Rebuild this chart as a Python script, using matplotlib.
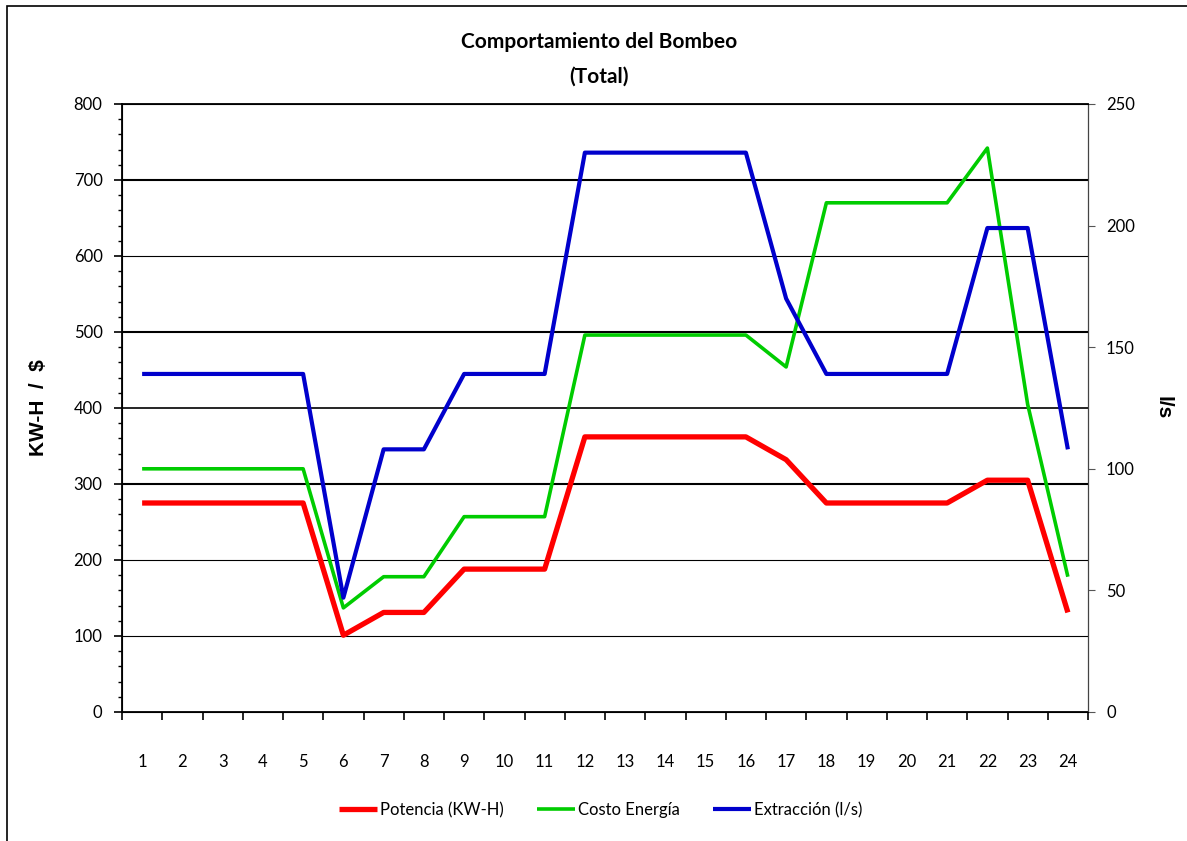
import matplotlib.pyplot as plt
from matplotlib.patches import Rectangle
from matplotlib.ticker import MultipleLocator

horas = list(range(1, 25))

# Potencia (KW-H) - eje izquierdo
potencia = [275, 275, 275, 275, 275, 101, 131, 131, 188, 188, 188, 362,
            362, 362, 362, 362, 332, 275, 275, 275, 275, 305, 305, 131]
# Costo Energia ($) - eje izquierdo
costo = [320, 320, 320, 320, 320, 137, 178, 178, 257, 257, 257, 496,
         496, 496, 496, 496, 454, 670, 670, 670, 670, 742, 405, 178]
# Extraccion (l/s) - eje derecho
extraccion = [139, 139, 139, 139, 139, 47, 108, 108, 139, 139, 139, 230,
              230, 230, 230, 230, 170, 139, 139, 139, 139, 199, 199, 108]

fig = plt.figure(figsize=(11.87, 8.41), dpi=100)
ax = fig.add_axes([122/1187, 1-712/841, (1088-122)/1187, (712-104)/841])
ax2 = ax.twinx()

tick_font = 'Lato'

l1, = ax.plot(horas, potencia, color='#ff0000', lw=3.8, solid_capstyle='butt', zorder=3)
l2, = ax.plot(horas, costo, color='#00cc00', lw=2.6, solid_capstyle='butt', zorder=3)
l3, = ax2.plot(horas, extraccion, color='#0000cc', lw=3.0, solid_capstyle='butt', zorder=3)

ax.set_xlim(0.5, 24.5)
ax.set_ylim(0, 800)
ax2.set_ylim(0, 250)

ax.set_xticks(horas)
ax.set_xticklabels([str(h) for h in horas], fontname=tick_font, fontsize=12)
ax.set_xticks([h + 0.5 for h in range(0, 25)], minor=True)
ax.tick_params(axis='x', which='major', length=0, pad=30)
ax.tick_params(axis='x', which='minor', length=6, width=1.2, direction='out', color='black')

ax.yaxis.set_major_locator(MultipleLocator(100))
ax.yaxis.set_minor_locator(MultipleLocator(20))
ax.tick_params(axis='y', which='major', length=6, width=1.2, direction='out', labelsize=12, pad=8)
ax.tick_params(axis='y', which='minor', length=3, width=1.0, direction='out')
for t in ax.get_yticklabels():
    t.set_fontname(tick_font)

ax2.yaxis.set_major_locator(MultipleLocator(50))
ax2.tick_params(axis='y', length=5, width=0.8, color='#555555', direction='out', labelsize=12, pad=8)
for t in ax2.get_yticklabels():
    t.set_fontname(tick_font)

# lineas horizontales
ax.yaxis.grid(True, color='black')
ax.set_axisbelow(True)
grosor = {100: 0.8, 200: 0.8, 300: 1.5, 400: 1.2, 500: 1.5, 600: 0.8, 700: 1.5}
for val, gl in zip(ax.get_yticks(), ax.get_ygridlines()):
    gl.set_linewidth(grosor.get(int(val), 0))

for s in ['left', 'bottom', 'top']:
    ax.spines[s].set_linewidth(1.3)
ax2.spines['right'].set_linewidth(0.8)
ax2.spines['right'].set_color('#444444')

ax.set_ylabel('KW-H  /  $', fontname='Liberation Sans', fontweight='bold', fontsize=15)
ax.yaxis.set_label_coords(-0.077, 0.5)
ax2.set_ylabel('l/s', fontname='Liberation Sans', fontweight='bold', fontsize=15, rotation=-90,
               va='center')
ax2.yaxis.set_label_coords(1.078, 0.5)

fig.text(0.505, 1-42/841, 'Comportamiento del Bombeo', ha='center', va='center',
         fontname='Lato', fontweight='bold', fontsize=15)
fig.text(0.505, 1-77/841, '(Total)', ha='center', va='center',
         fontname='Lato', fontweight='bold', fontsize=15)

fig.legend([l1, l2, l3], ['Potencia (KW-H)', 'Costo Energía', 'Extracción (l/s)'],
           loc='center', bbox_to_anchor=(0.506, 1-810/841), ncol=3, frameon=False,
           prop={'family': tick_font, 'size': 12}, handlelength=2.3, handletextpad=0.15,
           columnspacing=2.0)

fig.add_artist(Rectangle((7/1187, -0.05), 1.1, 1-6/841+0.05, transform=fig.transFigure,
                         fill=False, edgecolor='black', lw=1.2))

fig.savefig('out.png', dpi=100)
